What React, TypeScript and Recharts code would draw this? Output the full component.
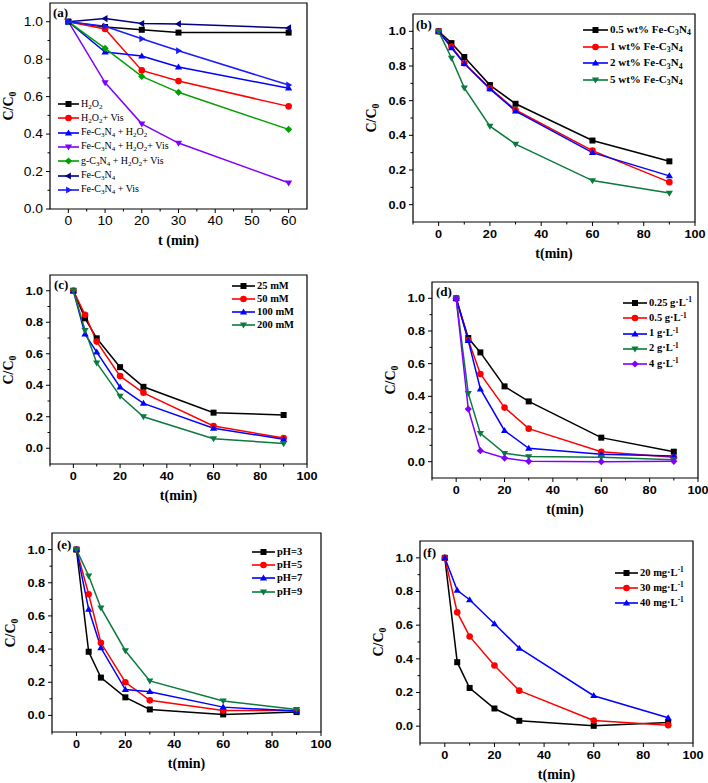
import { LineChart, Line, XAxis, YAxis, ReferenceArea } from 'recharts';

// ---- data ----
const timeA = [0, 10, 20, 30, 60];
const aH2O2 = [1.0, 0.972, 0.957, 0.942, 0.942];
const aH2O2Vis = [1.0, 0.961, 0.74, 0.683, 0.548];
const aFeH2O2 = [1.0, 0.838, 0.817, 0.758, 0.645];
const aFeH2O2Vis = [1.0, 0.675, 0.455, 0.352, 0.14];
const aGH2O2Vis = [1.0, 0.858, 0.708, 0.623, 0.425];
const aFe = [1.0, 1.017, 0.99, 0.988, 0.967];
const aFeVis = [1.0, 0.976, 0.909, 0.845, 0.662];

const timeLong = [0, 5, 10, 20, 30, 60, 90];
const bHalf = [1.0, 0.932, 0.852, 0.69, 0.582, 0.37, 0.25];
const bOne = [1.0, 0.912, 0.816, 0.672, 0.546, 0.312, 0.13];
const bTwo = [1.0, 0.905, 0.814, 0.668, 0.54, 0.3, 0.166];
const bFive = [1.0, 0.846, 0.674, 0.453, 0.349, 0.139, 0.067];

const c25 = [1.0, 0.825, 0.698, 0.515, 0.39, 0.226, 0.211];
const c50 = [1.0, 0.848, 0.677, 0.458, 0.352, 0.141, 0.065];
const c100 = [1.0, 0.724, 0.61, 0.388, 0.285, 0.127, 0.057];
const c200 = [1.0, 0.749, 0.542, 0.331, 0.2, 0.061, 0.03];

const d025 = [1.0, 0.757, 0.669, 0.461, 0.369, 0.147, 0.061];
const d05 = [1.0, 0.745, 0.537, 0.331, 0.202, 0.061, 0.027];
const d1 = [1.0, 0.741, 0.445, 0.19, 0.082, 0.045, 0.035];
const d2 = [1.0, 0.418, 0.173, 0.051, 0.031, 0.027, 0.012];
const d4 = [1.0, 0.322, 0.067, 0.022, 0.002, 0.0, 0.002];

const ePH3 = [1.0, 0.384, 0.228, 0.109, 0.036, 0.006, 0.02];
const ePH5 = [1.0, 0.731, 0.438, 0.2, 0.091, 0.03, 0.03];
const ePH7 = [1.0, 0.64, 0.408, 0.156, 0.143, 0.05, 0.026];
const ePH9 = [1.0, 0.842, 0.648, 0.39, 0.208, 0.087, 0.036];

const f20 = [1.0, 0.38, 0.227, 0.105, 0.032, 0.002, 0.022];
const f30 = [1.0, 0.676, 0.533, 0.36, 0.211, 0.034, 0.006];
const f40 = [1.0, 0.807, 0.751, 0.608, 0.463, 0.181, 0.05];

// tick values
const xMajorA = [0, 10, 20, 30, 40, 50, 60];
const xMinorA = [5, 15, 25, 35, 45, 55];
const xMajor = [0, 20, 40, 60, 80, 100];
const xMinor = [-10, 10, 30, 50, 70, 90];
const yMajor = [0, 0.2, 0.4, 0.6, 0.8, 1.0];
const yMinor = [0.1, 0.3, 0.5, 0.7, 0.9];

const SERIF = '"Liberation Serif", "Times New Roman", serif';
const SANS = '"Liberation Sans", Arial, sans-serif';

const BLACK = '#000000';
const RED = '#ff0000';
const BLUE = '#0000ff';
const GREEN = '#0b7a3e';
const PURPLE = '#8000ff';

type Shape = 'square' | 'circle' | 'up' | 'down' | 'diamond' | 'left' | 'right';

interface Series {
  name: string;
  values: number[];
  color: string;
  shape: Shape;
}

interface PanelCfg {
  letter: string;
  frame: [number, number, number, number];
  time: number[];
  series: Series[];
  xDomain: [number, number];
  yDomain: [number, number];
  xMajor: number[];
  xMinor: number[];
  xTitle: string;
  tickBold: boolean;
  tickSize: number;
  tickStretch: number;
  legend: { x: number; y: number; gap: number; lineLen: number; font: number; bold: boolean };
  letterPos: [number, number];
}

const panels: PanelCfg[] = [
  {
    letter: '(a)',
    frame: [50, 3, 307, 209],
    time: timeA,
    series: [
      { name: 'H_2O_2', values: aH2O2, color: BLACK, shape: 'square' },
      { name: 'H_2O_2+ Vis', values: aH2O2Vis, color: RED, shape: 'circle' },
      { name: 'Fe-C_3N_4 + H_2O_2', values: aFeH2O2, color: BLUE, shape: 'up' },
      { name: 'Fe-C_3N_4 + H_2O_2+ Vis', values: aFeH2O2Vis, color: PURPLE, shape: 'down' },
      { name: 'g-C_3N_4 + H_2O_2+ Vis', values: aGH2O2Vis, color: '#00a000', shape: 'diamond' },
      { name: 'Fe-C_3N_4', values: aFe, color: '#000080', shape: 'left' },
      { name: 'Fe-C_3N_4 + Vis', values: aFeVis, color: '#1a1aff', shape: 'right' },
    ],
    xDomain: [-5, 65],
    yDomain: [0, 1.1],
    xMajor: xMajorA,
    xMinor: xMinorA,
    xTitle: 't (min)',
    tickBold: false,
    tickSize: 12,
    tickStretch: 1.15,
    legend: { x: 58, y: 104, gap: 14.3, lineLen: 21, font: 10, bold: false },
    letterPos: [53, 13],
  },
  {
    letter: '(b)',
    frame: [413, 14, 695, 222],
    time: timeLong,
    series: [
      { name: '0.5 wt% Fe-C_3N_4', values: bHalf, color: BLACK, shape: 'square' },
      { name: '1 wt% Fe-C_3N_4', values: bOne, color: RED, shape: 'circle' },
      { name: '2 wt% Fe-C_3N_4', values: bTwo, color: BLUE, shape: 'up' },
      { name: '5 wt% Fe-C_3N_4', values: bFive, color: GREEN, shape: 'down' },
    ],
    xDomain: [-10, 100],
    yDomain: [-0.1, 1.1],
    xMajor,
    xMinor,
    xTitle: 't(min)',
    tickBold: true,
    tickSize: 11,
    tickStretch: 1.15,
    legend: { x: 583, y: 30, gap: 16.7, lineLen: 25, font: 11, bold: true },
    letterPos: [416, 25],
  },
  {
    letter: '(c)',
    frame: [50, 275, 307, 464],
    time: timeLong,
    series: [
      { name: '25 mM', values: c25, color: BLACK, shape: 'square' },
      { name: '50 mM', values: c50, color: RED, shape: 'circle' },
      { name: '100 mM', values: c100, color: BLUE, shape: 'up' },
      { name: '200 mM', values: c200, color: GREEN, shape: 'down' },
    ],
    xDomain: [-10, 100],
    yDomain: [-0.1, 1.1],
    xMajor,
    xMinor,
    xTitle: 't(min)',
    tickBold: true,
    tickSize: 11,
    tickStretch: 1.15,
    legend: { x: 232, y: 286, gap: 13, lineLen: 23, font: 10.5, bold: true },
    letterPos: [54, 285],
  },
  {
    letter: '(d)',
    frame: [432, 282, 698, 478],
    time: timeLong,
    series: [
      { name: '0.25 g·L^-1', values: d025, color: BLACK, shape: 'square' },
      { name: '0.5 g·L^-1', values: d05, color: RED, shape: 'circle' },
      { name: '1 g·L^-1', values: d1, color: BLUE, shape: 'up' },
      { name: '2 g·L^-1', values: d2, color: GREEN, shape: 'down' },
      { name: '4 g·L^-1', values: d4, color: PURPLE, shape: 'diamond' },
    ],
    xDomain: [-10, 100],
    yDomain: [-0.1, 1.1],
    xMajor,
    xMinor,
    xTitle: 't(min)',
    tickBold: true,
    tickSize: 11,
    tickStretch: 1.15,
    legend: { x: 623, y: 303, gap: 15.3, lineLen: 24, font: 10.5, bold: true },
    letterPos: [436, 292],
  },
  {
    letter: '(e)',
    frame: [52, 533, 321, 732],
    time: timeLong,
    series: [
      { name: 'pH=3', values: ePH3, color: BLACK, shape: 'square' },
      { name: 'pH=5', values: ePH5, color: RED, shape: 'circle' },
      { name: 'pH=7', values: ePH7, color: BLUE, shape: 'up' },
      { name: 'pH=9', values: ePH9, color: GREEN, shape: 'down' },
    ],
    xDomain: [-10, 100],
    yDomain: [-0.1, 1.1],
    xMajor,
    xMinor,
    xTitle: 't(min)',
    tickBold: true,
    tickSize: 11,
    tickStretch: 1.15,
    legend: { x: 252, y: 552, gap: 13.2, lineLen: 23, font: 10.5, bold: true },
    letterPos: [57, 545],
  },
  {
    letter: '(f)',
    frame: [420, 541, 693, 743],
    time: timeLong,
    series: [
      { name: '20 mg·L^-1', values: f20, color: BLACK, shape: 'square' },
      { name: '30 mg·L^-1', values: f30, color: RED, shape: 'circle' },
      { name: '40 mg·L^-1', values: f40, color: BLUE, shape: 'up' },
    ],
    xDomain: [-10, 100],
    yDomain: [-0.1, 1.1],
    xMajor,
    xMinor,
    xTitle: 't(min)',
    tickBold: true,
    tickSize: 11,
    tickStretch: 1.15,
    legend: { x: 615, y: 573, gap: 15, lineLen: 23, font: 10.5, bold: true },
    letterPos: [423, 553],
  },
];

const YW = 50; // y axis width
const MT = 5;
const MR = 16;
const XH = 45;

const isIn = (arr: number[], v: number) => arr.some((m) => Math.abs(m - v) < 1e-6);

function Marker({ cx, cy, shape, color, r = 3 }: { cx: number; cy: number; shape: Shape; color: string; r?: number }) {
  if (cx == null || cy == null || isNaN(cx) || isNaN(cy)) return null;
  const t = r * 1.2;
  switch (shape) {
    case 'square':
      return <rect x={cx - r} y={cy - r} width={2 * r} height={2 * r} fill={color} />;
    case 'circle':
      return <circle cx={cx} cy={cy} r={r + 0.3} fill={color} />;
    case 'diamond':
      return <polygon points={`${cx},${cy - t} ${cx + t},${cy} ${cx},${cy + t} ${cx - t},${cy}`} fill={color} />;
    case 'up':
      return <polygon points={`${cx},${cy - t} ${cx + t},${cy + r * 0.8} ${cx - t},${cy + r * 0.8}`} fill={color} />;
    case 'down':
      return <polygon points={`${cx},${cy + t} ${cx + t},${cy - r * 0.8} ${cx - t},${cy - r * 0.8}`} fill={color} />;
    case 'left':
      return <polygon points={`${cx - t},${cy} ${cx + r * 0.8},${cy - t} ${cx + r * 0.8},${cy + t}`} fill={color} />;
    case 'right':
      return <polygon points={`${cx + t},${cy} ${cx - r * 0.8},${cy - t} ${cx - r * 0.8},${cy + t}`} fill={color} />;
  }
  return null;
}

// "_3" -> subscript, "^-1" -> superscript
function Rich({ text }: { text: string }) {
  const parts = text.split(/(_\d|\^-\d)/);
  return (
    <>
      {parts.map((p, i) => {
        if (p.startsWith('_'))
          return (
            <span key={i} style={{ fontSize: '0.7em', position: 'relative', top: '0.3em' }}>
              {p.slice(1)}
            </span>
          );
        if (p.startsWith('^'))
          return (
            <span key={i} style={{ fontSize: '0.7em', position: 'relative', top: '-0.45em' }}>
              {p.slice(1)}
            </span>
          );
        return <span key={i}>{p}</span>;
      })}
    </>
  );
}

function renderXTick(cfg: PanelCfg) {
  return (props: any) => {
    const { x, y, payload } = props;
    const major = isIn(cfg.xMajor, payload.value);
    return (
      <g key={`xt-${payload.value}`}>
        <line x1={x} x2={x} y1={y} y2={y + (major ? 4 : 2.5)} stroke="#000" strokeWidth={1} />
        {major && (
          <text
            transform={`translate(${x},${y + 16}) scale(${cfg.tickStretch},1)`}
            textAnchor="middle"
            fontFamily={SANS}
            fontSize={cfg.tickSize}
            fontWeight={cfg.tickBold ? 700 : 400}
            fill="#000"
          >
            {payload.value}
          </text>
        )}
      </g>
    );
  };
}

function renderYTick(cfg: PanelCfg) {
  return (props: any) => {
    const { x, y, payload } = props;
    const major = isIn(yMajor, payload.value);
    return (
      <g key={`yt-${payload.value}`}>
        <line x1={x} x2={x - (major ? 4 : 2.5)} y1={y} y2={y} stroke="#000" strokeWidth={1} />
        {major && (
          <text
            transform={`translate(${x - 7},${y}) scale(${cfg.tickStretch},1)`}
            dy="0.36em"
            textAnchor="end"
            fontFamily={SANS}
            fontSize={cfg.tickSize}
            fontWeight={cfg.tickBold ? 700 : 400}
            fill="#000"
          >
            {Number(payload.value).toFixed(1)}
          </text>
        )}
      </g>
    );
  };
}

function Panel({ cfg }: { cfg: PanelCfg }) {
  const [l, t, r, b] = cfg.frame;
  const data = cfg.time.map((tm, i) => {
    const row: Record<string, number> = { t: tm };
    cfg.series.forEach((s, k) => {
      row[`s${k}`] = s.values[i];
    });
    return row;
  });
  const xTicks = [...cfg.xMajor, ...cfg.xMinor].sort((p, q) => p - q);
  const yTicks = [...yMajor, ...yMinor].sort((p, q) => p - q);
  const weight = cfg.legend.bold ? 700 : 400;

  return (
    <>
      <div style={{ position: 'absolute', left: l - YW, top: t - MT }}>
        <LineChart
          width={YW + (r - l) + MR}
          height={MT + (b - t) + XH}
          data={data}
          margin={{ top: MT, right: MR, bottom: 0, left: 0 }}
        >
          <XAxis
            dataKey="t"
            type="number"
            domain={cfg.xDomain}
            ticks={xTicks}
            interval={0}
            height={XH}
            tickSize={0}
            tickMargin={0}
            axisLine={false}
            tickLine={false}
            tick={renderXTick(cfg)}
            allowDataOverflow
          />
          <YAxis
            type="number"
            domain={cfg.yDomain}
            ticks={yTicks}
            interval={0}
            width={YW}
            tickSize={0}
            tickMargin={0}
            axisLine={false}
            tickLine={false}
            tick={renderYTick(cfg)}
            allowDataOverflow
          />
          <ReferenceArea
            x1={cfg.xDomain[0]}
            x2={cfg.xDomain[1]}
            y1={cfg.yDomain[0]}
            y2={cfg.yDomain[1]}
            fill="none"
            stroke="#000"
            strokeWidth={1.2}
            ifOverflow="visible"
          />
          {cfg.series.map((s, k) => (
            <Line
              key={s.name}
              type="linear"
              dataKey={`s${k}`}
              stroke={s.color}
              strokeWidth={1.5}
              isAnimationActive={false}
              dot={(p: any) => (
                <Marker key={`${k}-${p.index}`} cx={p.cx} cy={p.cy} shape={s.shape} color={s.color} />
              )}
              activeDot={false}
            />
          ))}
        </LineChart>
      </div>

      {/* panel letter */}
      <div
        style={{
          position: 'absolute',
          left: cfg.letterPos[0],
          top: cfg.letterPos[1] - 8,
          lineHeight: '16px',
          fontFamily: SERIF,
          fontWeight: 700,
          fontSize: 13,
        }}
      >
        {cfg.letter}
      </div>

      {/* legend */}
      {cfg.series.map((s, k) => (
        <div
          key={s.name}
          style={{
            position: 'absolute',
            left: cfg.legend.x,
            top: cfg.legend.y + k * cfg.legend.gap - 8,
            height: 16,
            display: 'flex',
            alignItems: 'center',
            whiteSpace: 'nowrap',
            fontFamily: SERIF,
            fontWeight: weight,
            fontSize: cfg.legend.font,
          }}
        >
          <svg width={cfg.legend.lineLen} height={10} style={{ display: 'block' }}>
            <line x1={0} x2={cfg.legend.lineLen} y1={5} y2={5} stroke={s.color} strokeWidth={1.6} />
            <Marker cx={cfg.legend.lineLen / 2} cy={5} shape={s.shape} color={s.color} />
          </svg>
          <span style={{ marginLeft: 2, lineHeight: '16px' }}>
            <Rich text={s.name} />
          </span>
        </div>
      ))}

      {/* axis titles */}
      <div
        style={{
          position: 'absolute',
          left: (l + r) / 2,
          top: b + 32,
          transform: 'translate(-50%, -50%)',
          whiteSpace: 'nowrap',
          fontFamily: SERIF,
          fontWeight: 700,
          fontSize: 14,
        }}
      >
        {cfg.xTitle}
      </div>
      <div
        style={{
          position: 'absolute',
          left: l - 41,
          top: (t + b) / 2,
          transform: 'translate(-50%, -50%) rotate(-90deg)',
          whiteSpace: 'nowrap',
          fontFamily: SERIF,
          fontWeight: 700,
          fontSize: 14,
        }}
      >
        <Rich text="C/C_0" />
      </div>
    </>
  );
}

export default function App() {
  return (
    <div
      style={{
        position: 'absolute',
        left: 0,
        top: 0,
        width: 708,
        height: 783,
        background: '#fff',
        overflow: 'hidden',
      }}
    >
      {panels.map((p) => (
        <Panel key={p.letter} cfg={p} />
      ))}
    </div>
  );
}
